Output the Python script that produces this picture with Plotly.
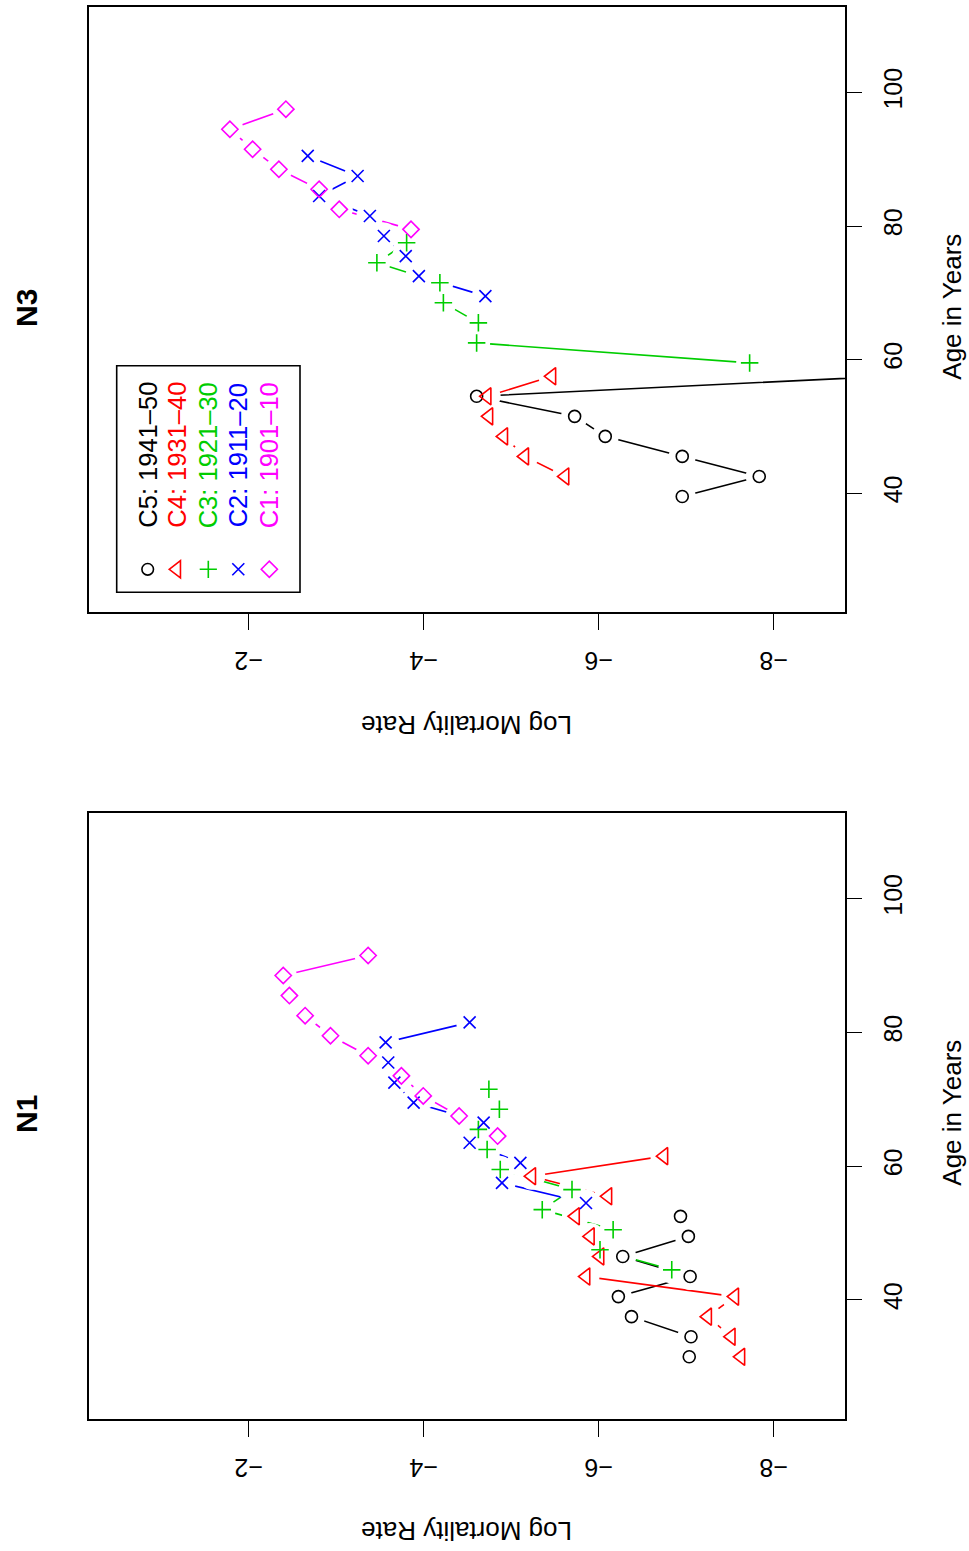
import plotly.graph_objects as go

W, H = 969, 1551
FONT = "Liberation Sans, Arial, Helvetica, sans-serif"

# ---------------- data ----------------
mort_ticks = [-2, -4, -6, -8]
mort_tick_text = ["\u22122", "\u22124", "\u22126", "\u22128"]
age_ticks = [40, 60, 80, 100]

cohort_labels = ["C5: 1941\u201350", "C4: 1931\u201340", "C3: 1921\u201330",
                 "C2: 1911\u201320", "C1: 1901\u201310"]
cohort_colors = ["#000000", "#FF0000", "#00CD00", "#0000FF", "#FF00FF"]
cohort_symbols = ["circle", "triangle-left", "cross-thin", "x-thin", "diamond"]
cohort_sizes = [12, 15, 12.5, 12, 12.5]

# Panel N3 (top)
n3_c5_age = [39.5, 42.5, 45.5, 48.5, 51.5, 54.5, 57.5]
n3_c5_lmr = [-6.96, -7.84, -6.96, -6.08, -5.73, -4.61, -9.3]
n3_c4_age = [42.5, 45.5, 48.5, 51.5, 54.5, 57.5]
n3_c4_lmr = [-5.62, -5.16, -4.92, -4.75, -4.73, -5.47]
n3_c3_age = [59.5, 62.5, 65.5, 68.5, 71.5, 74.5, 77.5]
n3_c3_lmr = [-7.73, -4.61, -4.63, -4.23, -4.19, -3.47, -3.81]
n3_c2_age = [69.5, 72.5, 75.5, 78.5, 81.5, 84.5, 87.5, 90.5]
n3_c2_lmr = [-4.71, -3.95, -3.80, -3.55, -3.39, -2.81, -3.25, -2.68]
n3_c1_age = [79.5, 82.5, 85.5, 88.5, 91.5, 94.5, 97.5]
n3_c1_lmr = [-3.86, -3.04, -2.81, -2.35, -2.05, -1.79, -2.43]

# Panel N1 (bottom)
n1_c5_age = [31.5, 34.5, 37.5, 40.5, 43.5, 46.5, 49.5, 52.5]
n1_c5_lmr = [-7.04, -7.06, -6.38, -6.23, -7.05, -6.28, -7.03, -6.94]
n1_c4_age = [31.5, 34.5, 37.5, 40.5, 43.5, 46.5, 49.5, 52.5, 55.5, 58.5, 61.5]
n1_c4_lmr = [-7.63, -7.52, -7.25, -7.56, -5.86, -6.02, -5.91, -5.74, -6.11, -5.24, -6.75]
n1_c3_age = [44.5, 47.5, 50.5, 53.5, 56.5, 59.5, 62.5, 65.5, 68.5, 71.5]
n1_c3_lmr = [-6.84, -6.02, -6.17, -5.36, -5.70, -4.88, -4.73, -4.63, -4.87, -4.75]
n1_c2_age = [54.5, 57.5, 60.5, 63.5, 66.5, 69.5, 72.5, 75.5, 78.5, 81.5]
n1_c2_lmr = [-5.86, -4.90, -5.11, -4.53, -4.69, -3.89, -3.67, -3.60, -3.57, -4.53]
n1_c1_age = [64.5, 67.5, 70.5, 73.5, 76.5, 79.5, 82.5, 85.5, 88.5, 91.5]
n1_c1_lmr = [-4.85, -4.41, -4.00, -3.75, -3.37, -2.94, -2.65, -2.47, -2.40, -3.37]

panels = [
    ("x", "y", [(n3_c5_age, n3_c5_lmr), (n3_c4_age, n3_c4_lmr), (n3_c3_age, n3_c3_lmr),
                (n3_c2_age, n3_c2_lmr), (n3_c1_age, n3_c1_lmr)]),
    ("x2", "y2", [(n1_c5_age, n1_c5_lmr), (n1_c4_age, n1_c4_lmr), (n1_c3_age, n1_c3_lmr),
                  (n1_c2_age, n1_c2_lmr), (n1_c1_age, n1_c1_lmr)]),
]

LW = 1.6
fig = go.Figure()

# lines first
for xa, ya, series in panels:
    for (age, lmr), col in zip(series, cohort_colors):
        fig.add_trace(go.Scatter(x=lmr, y=age, mode="lines", xaxis=xa, yaxis=ya,
                                 line=dict(color=col, width=LW),
                                 showlegend=False, hoverinfo="skip"))
# white gaps around points (type="b" look)
for xa, ya, series in panels:
    for (age, lmr), col in zip(series, cohort_colors):
        fig.add_trace(go.Scatter(x=lmr, y=age, mode="markers", xaxis=xa, yaxis=ya,
                                 marker=dict(symbol="circle", size=27, color="white",
                                             line=dict(width=0)),
                                 showlegend=False, hoverinfo="skip"))
# markers
for xa, ya, series in panels:
    for (age, lmr), col, sym, sz in zip(series, cohort_colors, cohort_symbols, cohort_sizes):
        fig.add_trace(go.Scatter(x=lmr, y=age, mode="markers", xaxis=xa, yaxis=ya,
                                 marker=dict(symbol=sym, size=sz,
                                             color="rgba(255,255,255,0)",
                                             line=dict(color=col, width=LW)),
                                 showlegend=False))


def px(x):
    return x / W


def py(y):
    return 1 - y / H


xdom = [px(89), px(845)]
dom_top = [py(612), py(7)]
dom_bot = [py(1419), py(813)]
xrange_ = [-0.18, -8.82]
yrange_ = [22.2, 112.8]

tickfont = dict(family=FONT, size=25, color="black")
xcommon = dict(range=xrange_, tickmode="array", tickvals=mort_ticks, ticktext=mort_tick_text,
               ticks="outside", ticklen=16, tickwidth=1.4, tickcolor="black",
               tickangle=180, ticklabelstandoff=17, ticklabelshift=14, showline=True,
               linecolor="black", linewidth=1.6, mirror=True, showgrid=False,
               zeroline=False, tickfont=tickfont, domain=xdom, fixedrange=True)
ycommon = dict(range=yrange_, tickmode="array", tickvals=age_ticks,
               ticks="outside", ticklen=15, tickwidth=1.4, tickcolor="black",
               tickangle=-90, ticklabelstandoff=10, side="right", showline=True,
               linecolor="black", linewidth=1.6, mirror=True, showgrid=False,
               zeroline=False, tickfont=tickfont, fixedrange=True)

fig.update_layout(
    width=W, height=H, margin=dict(l=0, r=0, t=0, b=0),
    paper_bgcolor="white", plot_bgcolor="white", showlegend=False,
    xaxis=dict(anchor="y", **xcommon),
    yaxis=dict(anchor="x", domain=dom_top, **ycommon),
    xaxis2=dict(anchor="y2", **xcommon),
    yaxis2=dict(anchor="x2", domain=dom_bot, **ycommon),
)

ann = []
off = 806
for dy, title in [(0, "N3"), (off, "N1")]:
    ann.append(dict(text="<b>%s</b>" % title, x=px(26.5), y=py(308.5 + dy), xref="paper",
                    yref="paper", showarrow=False, textangle=-90,
                    font=dict(family=FONT, size=30, color="black"),
                    xanchor="center", yanchor="middle"))
    ann.append(dict(text="Age in Years", x=px(952), y=py(306.7 + dy), xref="paper",
                    yref="paper", showarrow=False, textangle=-90,
                    font=dict(family=FONT, size=26, color="black"),
                    xanchor="center", yanchor="middle"))
    ann.append(dict(text="Log Mortality Rate", x=px(467), y=py(725 + dy), xref="paper",
                    yref="paper", showarrow=False, textangle=180,
                    font=dict(family=FONT, size=26, color="black"),
                    xanchor="center", yanchor="middle"))

# legend (top panel)
leg_cols = [147.7, 176.7, 208.3, 238.3, 269.3]
leg_sym_y = 569.3
for lab, col, cx in zip(cohort_labels, cohort_colors, leg_cols):
    ann.append(dict(text=lab, x=px(cx), y=py(455), xref="paper", yref="paper",
                    showarrow=False, textangle=-90,
                    font=dict(family=FONT, size=25.5, color=col),
                    xanchor="center", yanchor="middle"))

shapes = [dict(type="rect", xref="paper", yref="paper", x0=px(116.7), x1=px(300),
               y0=py(592.3), y1=py(365.7), line=dict(color="black", width=1.6))]


def path(pts, close=False):
    s = "M " + " L ".join("%f,%f" % (px(a), py(b)) for a, b in pts)
    return s + (" Z" if close else "")


lw = LW
# circle
cx, cy = leg_cols[0], leg_sym_y
shapes.append(dict(type="circle", xref="paper", yref="paper", x0=px(cx - 5.8), x1=px(cx + 5.8),
                   y0=py(cy + 5.8), y1=py(cy - 5.8), line=dict(color=cohort_colors[0], width=lw)))
# triangle left
cx = leg_cols[1]
shapes.append(dict(type="path", xref="paper", yref="paper",
                   path=path([(cx - 7.5, cy), (cx + 3.75, cy - 8.6), (cx + 3.75, cy + 8.6)], True),
                   line=dict(color=cohort_colors[1], width=lw)))
# plus
cx = leg_cols[2]
shapes.append(dict(type="path", xref="paper", yref="paper",
                   path=path([(cx - 8.6, cy), (cx + 8.6, cy)]) + " " + path([(cx, cy - 8.6), (cx, cy + 8.6)]),
                   line=dict(color=cohort_colors[2], width=lw)))
# x
cx = leg_cols[3]
shapes.append(dict(type="path", xref="paper", yref="paper",
                   path=path([(cx - 6, cy - 6), (cx + 6, cy + 6)]) + " " + path([(cx - 6, cy + 6), (cx + 6, cy - 6)]),
                   line=dict(color=cohort_colors[3], width=lw)))
# diamond
cx = leg_cols[4]
shapes.append(dict(type="path", xref="paper", yref="paper",
                   path=path([(cx - 8.1, cy), (cx, cy - 8.1), (cx + 8.1, cy), (cx, cy + 8.1)], True),
                   line=dict(color=cohort_colors[4], width=lw)))

fig.update_layout(annotations=ann, shapes=shapes)
fig.write_html("out.html", config={"displayModeBar": False},
               post_script="document.body.style.margin='0px';document.body.style.padding='0px';")
